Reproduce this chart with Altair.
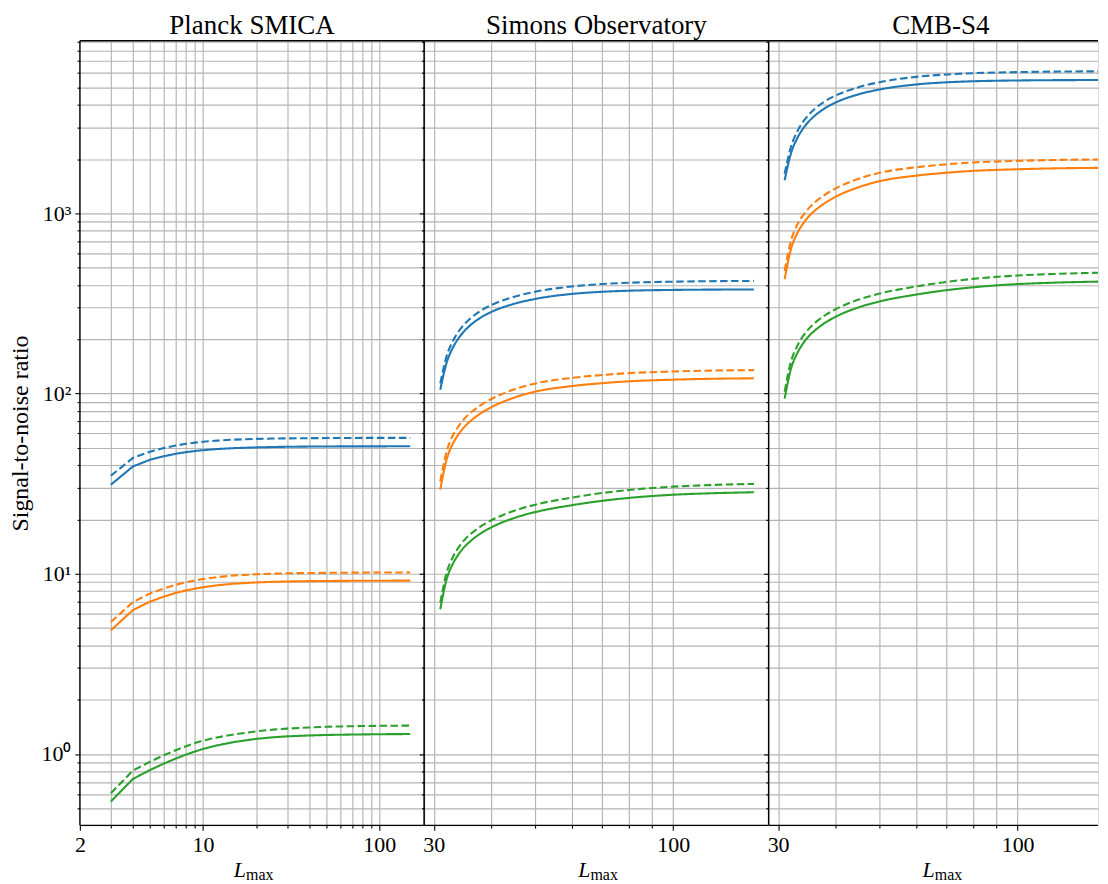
import altair as alt
import pandas as pd

FONT = "Liberation Serif"

series_names = ["blue", "orange", "green"]
series_colors = ["#1f77b4", "#ff7f0e", "#2ca02c"]
style_names = ["solid", "dashed"]
panel_titles = ["Planck SMICA", "Simons Observatory", "CMB-S4"]

# ---- Planck SMICA ----
L_planck = [3, 4, 5, 6, 7, 8, 9, 10, 12, 15, 20, 25, 30, 40, 50, 60, 80, 100, 120, 150]
planck_blue_solid = [31.2, 39.4, 42.9, 44.9, 46.3, 47.3, 48.0, 48.5, 49.2, 49.8, 50.25, 50.5, 50.65, 50.8, 50.85, 50.9, 50.92, 50.94, 50.95, 50.95]
planck_blue_dashed = [35.0, 43.9, 47.6, 49.9, 51.5, 52.6, 53.4, 54.0, 54.8, 55.5, 56.0, 56.25, 56.4, 56.55, 56.62, 56.67, 56.72, 56.75, 56.76, 56.77]
planck_orange_solid = [4.86, 6.29, 7.0, 7.47, 7.82, 8.08, 8.27, 8.42, 8.63, 8.81, 8.95, 9.02, 9.06, 9.10, 9.12, 9.13, 9.145, 9.15, 9.155, 9.16]
planck_orange_dashed = [5.40, 6.97, 7.77, 8.29, 8.68, 8.97, 9.18, 9.35, 9.58, 9.78, 9.93, 10.01, 10.06, 10.10, 10.12, 10.13, 10.15, 10.16, 10.16, 10.17]
planck_green_solid = [0.545, 0.727, 0.815, 0.885, 0.943, 0.992, 1.033, 1.066, 1.116, 1.165, 1.213, 1.238, 1.252, 1.267, 1.275, 1.279, 1.284, 1.287, 1.289, 1.29]
planck_green_dashed = [0.606, 0.809, 0.905, 0.985, 1.05, 1.104, 1.15, 1.187, 1.235, 1.285, 1.335, 1.365, 1.383, 1.403, 1.415, 1.422, 1.429, 1.433, 1.435, 1.437]

# ---- Simons Observatory / CMB-S4 ----
L_ground = [31, 32, 33, 34, 35, 36, 38, 40, 45, 50, 60, 70, 80, 100, 120, 150]
so_blue_solid = [105.0, 148.0, 179.0, 203.0, 222.5, 238.5, 264.0, 283.0, 315.0, 335.0, 357.0, 367.0, 372.0, 375.8, 377.2, 377.8]
so_blue_dashed = [113.9, 160.9, 194.8, 221.1, 242.5, 260.0, 288.0, 309.0, 344.6, 367.2, 392.7, 405.2, 411.8, 417.5, 420.2, 421.6]
so_orange_solid = [29.3, 43.0, 52.5, 59.5, 65.3, 70.0, 77.7, 83.8, 95.0, 102.5, 110.0, 114.2, 116.9, 119.4, 120.7, 121.5]
so_orange_dashed = [32.5, 47.7, 58.3, 66.0, 72.5, 77.7, 86.2, 93.0, 105.5, 113.8, 122.1, 126.8, 129.8, 132.5, 134.0, 134.9]
so_green_solid = [6.35, 9.3, 11.3, 12.85, 14.1, 15.1, 16.75, 18.05, 20.4, 22.0, 24.0, 25.4, 26.35, 27.45, 27.95, 28.33]
so_green_dashed = [6.90, 10.13, 12.32, 14.02, 15.40, 16.50, 18.32, 19.76, 22.38, 24.18, 26.45, 28.07, 29.17, 30.44, 31.05, 31.53]

s4_blue_solid = [1526, 2150, 2601, 2950, 3233, 3465, 3836, 4112, 4577, 4868, 5187, 5333, 5405, 5460, 5481, 5490]
s4_blue_dashed = [1657, 2341, 2834, 3217, 3528, 3783, 4190, 4496, 5014, 5343, 5714, 5896, 5992, 6075, 6114, 6134]
s4_orange_solid = [431, 633, 772, 875, 961, 1030, 1143, 1233, 1397, 1508, 1618, 1680, 1720, 1756, 1776, 1787]
s4_orange_dashed = [479, 704, 860, 974, 1069, 1146, 1271, 1372, 1556, 1679, 1801, 1870, 1915, 1954, 1977, 1990]
s4_green_solid = [93.7, 137.2, 166.7, 189.5, 208.0, 222.7, 247.1, 266.2, 300.9, 324.5, 354.0, 374.7, 388.7, 404.9, 412.3, 417.9]
s4_green_dashed = [102.4, 150.3, 182.8, 208.1, 228.5, 244.9, 271.9, 293.2, 332.1, 358.8, 392.5, 416.6, 432.9, 451.7, 460.8, 467.9]

# axis tick values
planck_x_major = [2, 10, 100]
planck_x_minor = [3, 4, 5, 6, 7, 8, 9, 20, 30, 40, 50, 60, 70, 80, 90]
ground_x_major = [30, 100]
ground_x_minor = [40, 50, 60, 70, 80, 90]
y_major = [1, 10, 100, 1000]
y_minor = [0.5, 0.6, 0.7, 0.8, 0.9, 2, 3, 4, 5, 6, 7, 8, 9,
           20, 30, 40, 50, 60, 70, 80, 90, 200, 300, 400, 500, 600, 700, 800, 900,
           2000, 3000, 4000, 5000, 6000, 7000, 8000, 9000]
y_domain = [0.402, 9070]
planck_x_domain = [2, 180]
so_x_domain = [28.6, 161.5]
s4_x_domain = [28.6, 149.8]   # right part of this panel is cut off in the original


def make_df(L, curves):
    rows = []
    for (name, style), vals in curves.items():
        for l, v in zip(L, vals):
            rows.append({"L": l, "snr": v, "series": name, "style": style,
                         "key": name + "-" + style})
    return pd.DataFrame(rows)


df_planck = make_df(L_planck, {
    ("blue", "solid"): planck_blue_solid, ("blue", "dashed"): planck_blue_dashed,
    ("orange", "solid"): planck_orange_solid, ("orange", "dashed"): planck_orange_dashed,
    ("green", "solid"): planck_green_solid, ("green", "dashed"): planck_green_dashed,
})
df_so = make_df(L_ground, {
    ("blue", "solid"): so_blue_solid, ("blue", "dashed"): so_blue_dashed,
    ("orange", "solid"): so_orange_solid, ("orange", "dashed"): so_orange_dashed,
    ("green", "solid"): so_green_solid, ("green", "dashed"): so_green_dashed,
})
df_s4 = make_df(L_ground, {
    ("blue", "solid"): s4_blue_solid, ("blue", "dashed"): s4_blue_dashed,
    ("orange", "solid"): s4_orange_solid, ("orange", "dashed"): s4_orange_dashed,
    ("green", "solid"): s4_green_solid, ("green", "dashed"): s4_green_dashed,
})

W = 345
W3 = 330
H = 786


def major_test(vals):
    return "indexof([" + ",".join(str(v) for v in vals) + "], datum.value) >= 0"


def label_expr(vals):
    parts = ["datum.value == %s ? '%s'" % (v, v) for v in vals]
    return " : ".join(parts) + " : ''"


Y_LABEL_EXPR = ("datum.value == 1 ? '10\u2070' : datum.value == 10 ? '10\u00b9' : "
                "datum.value == 100 ? '10\u00b2' : datum.value == 1000 ? '10\u00b3' : ''")

common_axis = dict(
    domain=False, grid=True, gridColor="#b4b4b4", gridWidth=1.15,
    tickColor="black", tickWidth=1.1,
    labelFont=FONT, labelFontSize=22, labelColor="black",
    labelOverlap=False, labelFlush=False,
)


def panel(df, title, xdom, xmaj, xmin, show_y, interp, width, right_spine=True):
    xaxis = alt.Axis(
        values=sorted(xmaj + xmin), labelExpr=label_expr(xmaj),
        tickSize={"condition": {"test": major_test(xmaj), "value": 5}, "value": 2.8},
        labelPadding=4, title=None, **common_axis)
    if show_y:
        yaxis = alt.Axis(
            values=sorted(y_major + y_minor), labelExpr=Y_LABEL_EXPR,
            tickSize={"condition": {"test": major_test(y_major), "value": 5}, "value": 2.8},
            labelPadding=4, title="Signal-to-noise ratio", titleFont=FONT,
            titleFontSize=24, titleFontWeight="normal", titleColor="black",
            titlePadding=8, **common_axis)
    else:
        yaxis = alt.Axis(
            values=sorted(y_major + y_minor), labels=False,
            tickSize={"condition": {"test": major_test(y_major), "value": 5}, "value": 2.8},
            title=None, **common_axis)

    lines = alt.Chart(df).mark_line(strokeWidth=2.1, interpolate=interp, clip=True).encode(
        x=alt.X("L:Q", scale=alt.Scale(type="log", domain=xdom, nice=False), axis=xaxis),
        y=alt.Y("snr:Q", scale=alt.Scale(type="log", domain=y_domain, nice=False), axis=yaxis),
        color=alt.Color("series:N", scale=alt.Scale(domain=series_names, range=series_colors), legend=None),
        strokeDash=alt.StrokeDash("style:N", scale=alt.Scale(domain=style_names, range=[[1, 0], [7.5, 3.5]]), legend=None),
        detail="key:N",
    )
    one = pd.DataFrame({"t": [title]})
    ttl = alt.Chart(one).mark_text(
        font=FONT, fontSize=27, align="center", baseline="alphabetic", color="black"
    ).encode(text="t:N", x=alt.value(W / 2), y=alt.value(-7))
    lab_L = alt.Chart(pd.DataFrame({"t": ["L"]})).mark_text(
        font=FONT, fontSize=22, fontStyle="italic", align="right", baseline="alphabetic", color="black"
    ).encode(text="t:N", x=alt.value(W / 2 - 6), y=alt.value(H + 52))
    lab_max = alt.Chart(pd.DataFrame({"t": ["max"]})).mark_text(
        font=FONT, fontSize=16, align="left", baseline="alphabetic", color="black"
    ).encode(text="t:N", x=alt.value(W / 2 - 6), y=alt.value(H + 55))

    frame = alt.Chart(one).mark_rule(color="black", strokeWidth=1.3)
    spines = [
        frame.encode(x=alt.value(0), x2=alt.value(width), y=alt.value(0)),
        frame.encode(x=alt.value(0), x2=alt.value(width), y=alt.value(H)),
        frame.encode(x=alt.value(0), y=alt.value(0), y2=alt.value(H)),
    ]
    if right_spine:
        spines.append(frame.encode(x=alt.value(width), y=alt.value(0), y2=alt.value(H)))
    return alt.layer(lines, *spines, ttl, lab_L, lab_max).properties(width=width, height=H)


p1 = panel(df_planck, panel_titles[0], planck_x_domain, planck_x_major, planck_x_minor, True, "linear", W)
p2 = panel(df_so, panel_titles[1], so_x_domain, ground_x_major, ground_x_minor, False, "monotone", W)
p3 = panel(df_s4, panel_titles[2], s4_x_domain, ground_x_major, ground_x_minor, False, "monotone", W3, right_spine=False)

chart = alt.hconcat(p1, p2, p3, spacing=0, bounds="flush").resolve_scale(
    x="independent", y="shared"
).properties(
    padding={"left": 0, "top": 2, "right": 0, "bottom": 0}
).configure_view(stroke="transparent", strokeWidth=0).configure(background="white")

chart.save("out.html", embed_options={"renderer": "svg", "actions": False})
